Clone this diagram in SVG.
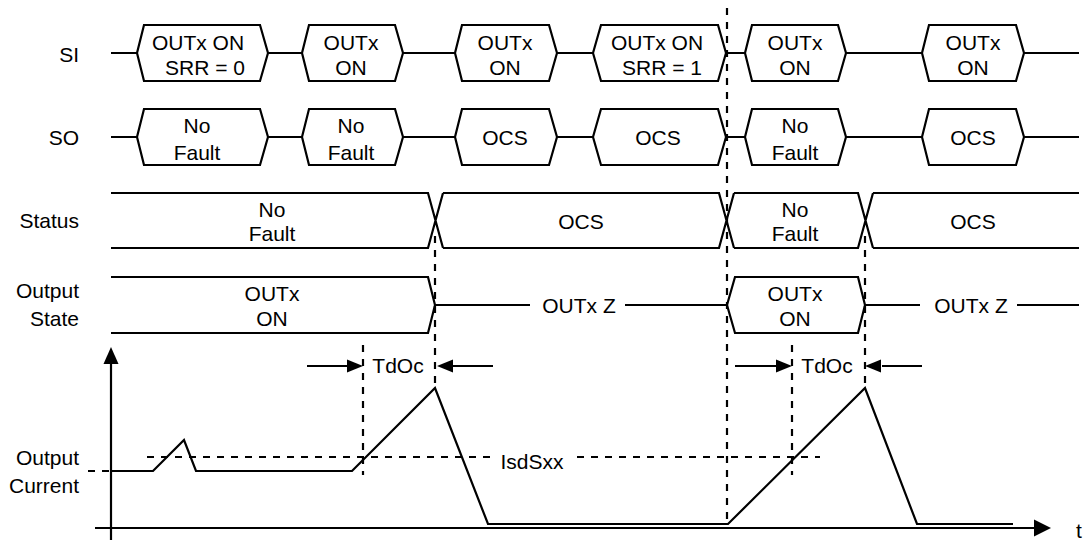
<svg xmlns="http://www.w3.org/2000/svg" width="1086" height="540" viewBox="0 0 1086 540">
<style>
.s{fill:none;stroke:#000;stroke-width:2.2;stroke-linejoin:miter}
.d{fill:none;stroke:#000;stroke-width:2.2;stroke-dasharray:7 7}
.t{font-family:"Liberation Sans",Arial,sans-serif;font-size:21px;fill:#000;text-anchor:middle}
.l{font-family:"Liberation Sans",Arial,sans-serif;font-size:21px;fill:#000;text-anchor:end}
.a{fill:#000;stroke:none}
</style>
<rect width="1086" height="540" fill="#fff"/>

<g id="labels">
<text class="l" x="79" y="62">SI</text>
<text class="l" x="79" y="145">SO</text>
<text class="l" x="79" y="228">Status</text>
<text class="l" x="79" y="298">Output</text>
<text class="l" x="79" y="326">State</text>
<text class="l" x="79" y="465">Output</text>
<text class="l" x="79" y="493">Current</text>
</g>

<g id="connectors">
<path class="s" d="M111,53H137M268,53H302M403,53H455M557,53H593M726,53H745M846,53H922M1024,53H1079"/>
<path class="s" d="M111,137H137M268,137H302M403,137H455M557,137H593M726,137H745M846,137H922M1024,137H1079"/>
<path class="s" d="M435,305H530M625,305H727M865,305H920M1017,305H1079"/>
<path class="d" d="M727,8V524"/>
<path class="d" d="M363,345V475"/>
<path class="d" d="M435,236V383"/>
<path class="d" d="M792,345V475"/>
<path class="d" d="M865,236V383"/>
<path class="d" d="M147,457H492M577,457H820"/>
<path class="d" d="M88,471H111"/>
<path class="s" d="M111,540V360"/>
<polygon class="a" points="111,347 103.5,364 118.5,364"/>
<path class="s" d="M95,528H1036"/>
<polygon class="a" points="1051,528 1034,519.5 1034,536.5"/>
<path class="s" d="M111,471H153L184,440L196,471H352L435,388L488,524H728L865,388L917,524H1013"/>
<path class="s" d="M307,366H349M453,366H493M735,366H777M882,366H922"/>
<polygon class="a" points="363,366 347,359.5 347,372.5"/>
<polygon class="a" points="437,366 453,359.5 453,372.5"/>
<polygon class="a" points="792,366 776,359.5 776,372.5"/>
<polygon class="a" points="865,366 881,359.5 881,372.5"/>
</g>

<g id="si1"><path class="s" d="M137,53L144,25H260L268,53L260,81H144Z"/><text class="t" x="198" y="50">OUTx ON</text><text class="t" x="205" y="75">SRR = 0</text></g>
<g id="si2"><path class="s" d="M302,53L309,25H395L403,53L395,81H309Z"/><text class="t" x="351" y="50">OUTx</text><text class="t" x="351" y="75">ON</text></g>
<g id="si3"><path class="s" d="M455,53L462,25H549L557,53L549,81H462Z"/><text class="t" x="505" y="50">OUTx</text><text class="t" x="505" y="75">ON</text></g>
<g id="si4"><path class="s" d="M593,53L601,25H718L726,53L718,81H601Z"/><text class="t" x="657" y="50">OUTx ON</text><text class="t" x="662" y="75">SRR = 1</text></g>
<g id="si5"><path class="s" d="M745,53L752,25H838L846,53L838,81H752Z"/><text class="t" x="795" y="50">OUTx</text><text class="t" x="795" y="75">ON</text></g>
<g id="si6"><path class="s" d="M922,53L929,25H1016L1024,53L1016,81H929Z"/><text class="t" x="973" y="50">OUTx</text><text class="t" x="973" y="75">ON</text></g>

<g id="so1"><path class="s" d="M137,137L144,109H260L268,137L260,165H144Z"/><text class="t" x="197" y="133">No</text><text class="t" x="197" y="160">Fault</text></g>
<g id="so2"><path class="s" d="M302,137L309,109H395L403,137L395,165H309Z"/><text class="t" x="351" y="133">No</text><text class="t" x="351" y="160">Fault</text></g>
<g id="so3"><path class="s" d="M455,137L462,109H549L557,137L549,165H462Z"/><text class="t" x="505" y="145">OCS</text></g>
<g id="so4"><path class="s" d="M593,137L601,109H718L726,137L718,165H601Z"/><text class="t" x="658" y="145">OCS</text></g>
<g id="so5"><path class="s" d="M745,137L752,109H838L846,137L838,165H752Z"/><text class="t" x="795" y="133">No</text><text class="t" x="795" y="160">Fault</text></g>
<g id="so6"><path class="s" d="M922,137L929,109H1016L1024,137L1016,165H929Z"/><text class="t" x="973" y="145">OCS</text></g>

<g id="status1"><path class="s" d="M111,193H428L443,248M111,248H428L443,193"/><text class="t" x="272" y="217">No</text><text class="t" x="272" y="241">Fault</text></g>
<g id="status2"><path class="s" d="M443,193H719L734,248M443,248H719L734,193"/><text class="t" x="581" y="229">OCS</text></g>
<g id="status3"><path class="s" d="M734,193H858L873,248M734,248H858L873,193"/><text class="t" x="795" y="217">No</text><text class="t" x="795" y="241">Fault</text></g>
<g id="status4"><path class="s" d="M873,193H1079M873,248H1079"/><text class="t" x="973" y="229">OCS</text></g>

<g id="out1"><path class="s" d="M111,277H428L435,305L428,333H111"/><text class="t" x="272" y="301">OUTx</text><text class="t" x="272" y="326">ON</text></g>
<g id="outz1"><text class="t" x="579" y="313">OUTx Z</text></g>
<g id="out2"><path class="s" d="M727,305L735,277H858L865,305L858,333H735Z"/><text class="t" x="795" y="301">OUTx</text><text class="t" x="795" y="326">ON</text></g>
<g id="outz2"><text class="t" x="971" y="313">OUTx Z</text></g>

<g id="annotations">
<text class="t" x="398" y="373">TdOc</text>
<text class="t" x="827" y="373">TdOc</text>
<text class="t" x="532" y="469">IsdSxx</text>
<text class="t" x="1079" y="538">t</text>
</g>
</svg>
